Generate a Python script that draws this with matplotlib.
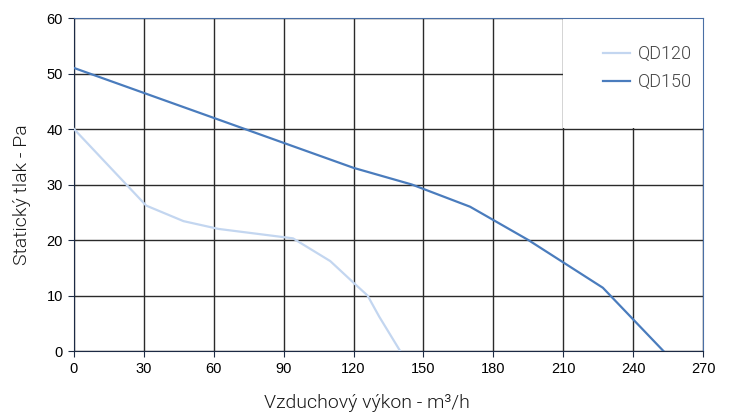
import matplotlib.pyplot as plt
from matplotlib.patches import Rectangle

# Données
qd120_x = [0, 31, 47, 62, 94, 110, 120, 126, 131, 140]
qd120_y = [40, 26.2, 23.4, 22, 20.3, 16.2, 12.3, 10, 6.2, 0]
qd150_x = [0, 30, 60, 90, 120, 145, 170, 195, 227, 253]
qd150_y = [51, 46.5, 42, 37.5, 33, 30, 26, 20, 11.4, 0]
x_ticks = list(range(0, 271, 30))
y_ticks = list(range(0, 61, 10))

fig = plt.figure(figsize=(7.34, 4.15), dpi=100)
ax = fig.add_axes([0.1008, 0.1542, 0.857, 0.8024])

ax.plot(qd120_x, qd120_y, color='#c3d6f0', linewidth=1.6, label='QD120', zorder=3)
ax.plot(qd150_x, qd150_y, color='#4a7cbd', linewidth=1.6, label='QD150', zorder=3)

ax.set_xlim(0, 270)
ax.set_ylim(0, 60)
ax.set_xticks(x_ticks)
ax.set_yticks(y_ticks)
ax.tick_params(labelsize=10.5, length=4, color='#1c2a44', pad=4)
for lab in ax.get_xticklabels() + ax.get_yticklabels():
    lab.set_family('Liberation Sans')

ax.set_axisbelow(True)
ax.grid(True, color='#2a2a2a', linewidth=1)

# Fond blanc derrière la légende
ax.add_patch(Rectangle((0.777, 0.67), 0.223, 0.33, transform=ax.transAxes,
                       facecolor='white', edgecolor='none', zorder=1))

for s in ['left', 'bottom']:
    ax.spines[s].set_color('#1c2a44')
for s in ['top', 'right']:
    ax.spines[s].set_color('#4a6fa5')

ax.set_xlabel('Vzduchový výkon - m³/h', family='Roboto', weight=300,
              fontsize=14, color='#1a1a1a')
ax.set_ylabel('Statický tlak - Pa', family='Roboto', weight=300,
              fontsize=14, color='#1a1a1a')
ax.xaxis.set_label_coords(0.465, -0.128)
ax.yaxis.set_label_coords(-0.068, 0.47)

leg = ax.legend(loc='upper left', bbox_to_anchor=(0.841, 0.918), frameon=False,
                prop={'family': 'Roboto', 'weight': 300, 'size': 13},
                handlelength=1.5, handletextpad=0.45, labelspacing=0.53,
                borderpad=0, borderaxespad=0)
for t in leg.get_texts():
    t.set_color('#444444')

plt.savefig('out.png', dpi=100)
